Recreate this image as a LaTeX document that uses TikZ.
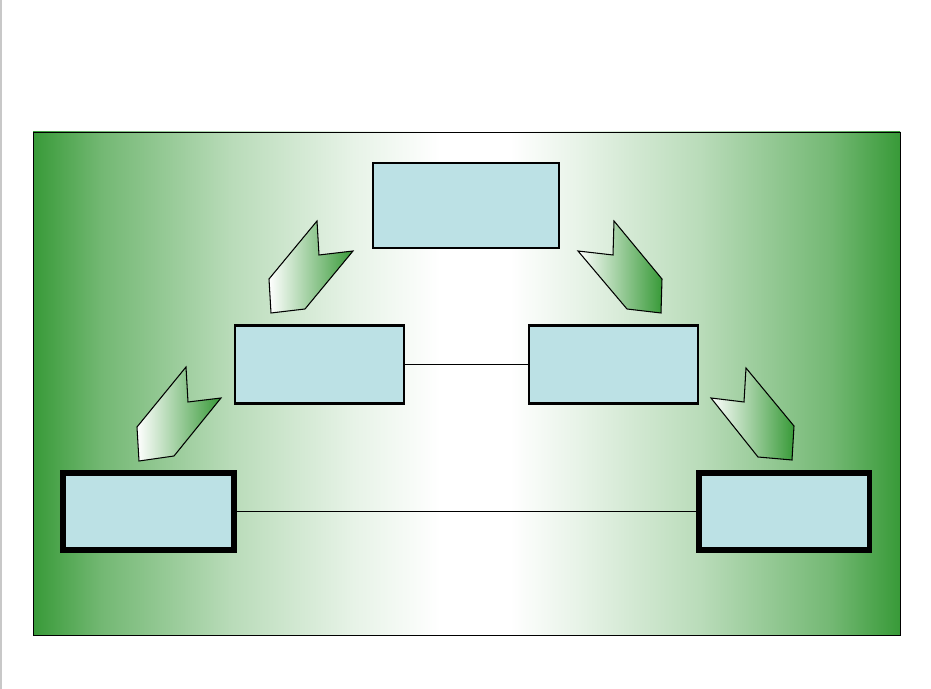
\documentclass[tikz,border=0pt]{standalone}
\usepackage{tikz}
\usetikzlibrary{positioning}
\usepackage{xcolor}
\definecolor{bggreen}{RGB}{56,154,56}
\definecolor{boxblue}{RGB}{188,225,229}
\definecolor{edgegrey}{RGB}{200,200,200}
\pgfdeclarehorizontalshading{greenband}{100bp}{color(0bp)=(bggreen); color(25bp)=(bggreen);
  color(29bp)=(bggreen!70); color(36.5bp)=(bggreen!35); color(43.5bp)=(bggreen!12);
  color(48.5bp)=(white); color(52.5bp)=(white); color(56.5bp)=(bggreen!12);
  color(63.5bp)=(bggreen!35); color(71bp)=(bggreen!70); color(75bp)=(bggreen); color(100bp)=(bggreen)}

\begin{document}
\begin{tikzpicture}[x=0.02cm, y=-0.02cm,
    level/.style={rectangle, draw=black, fill=boxblue, inner sep=0pt,
        minimum width=3.38cm, minimum height=1.54cm},
    link/.style={draw=black, line width=0.5pt},
    chevron/.style={draw=black, line width=0.6pt, left color=white, right color=bggreen}
]
    % page and panel
    \useasboundingbox (0,0) rectangle (931,689);
    \draw[edgegrey, line width=1.2pt] (0.6,0) -- (0.6,689);
    \draw[shading=greenband, line width=0.5pt] (33,132) rectangle (900,635);

    % boxes
    \node[level, line width=0.6pt, minimum width=3.72cm, minimum height=1.7cm] (top) at (466,205.5) {};
    \node[level, line width=1.5pt, minimum height=1.56cm] (midl) at (319.5,364.5) {};
    \node[level, line width=1.5pt, minimum height=1.56cm] (midr) at (613.5,364.5) {};
    \node[level, line width=3.4pt, minimum width=3.42cm] (botl) at (148.5,511.5) {};
    \node[level, line width=3.4pt, minimum width=3.42cm] (botr) at (784,511.5) {};

    % links
    \draw[link] (midl) -- (midr);
    \draw[link] (botl) -- (botr);

    % arrows
    \draw[chevron] (317,221) -- (319,255) -- (353,251) -- (305,309) -- (271,313) -- (269,279) -- cycle;
    \draw[chevron] (614,221) -- (613,255) -- (578,251) -- (627,309) -- (661,313) -- (662,279) -- cycle;
    \draw[chevron] (186,367) -- (188,402) -- (221,398) -- (174,456) -- (139,461) -- (137,427) -- cycle;
    \draw[chevron] (746,368) -- (744,402) -- (711,398) -- (758,457) -- (792,460) -- (794,426) -- cycle;
\end{tikzpicture}
\end{document}
